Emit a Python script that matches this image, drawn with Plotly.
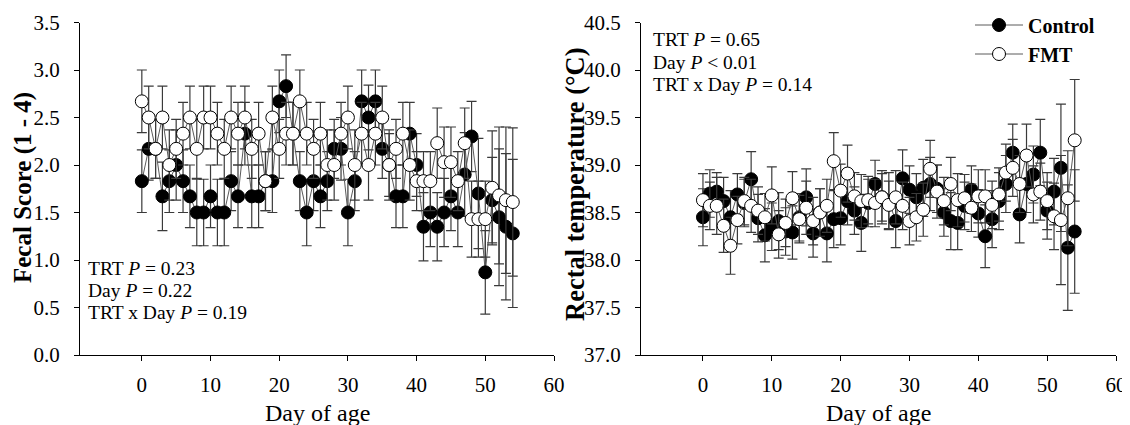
import plotly.graph_objects as go

days = list(range(55))

ctrl_fecal = [1.83, 2.17, 2.17, 1.67, 1.83, 2.00, 1.83, 1.67, 1.50, 1.50,
              1.67, 1.50, 1.50, 1.83, 1.67, 2.33, 1.67, 1.67, 1.83, 1.83,
              2.67, 2.83, 2.33, 1.83, 1.50, 1.83, 1.67, 1.83, 2.17, 2.17,
              1.50, 1.83, 2.67, 2.50, 2.67, 2.17, 2.00, 1.67, 1.67, 2.33,
              2.00, 1.35, 1.50, 1.35, 1.50, 1.67, 1.50, 1.90, 2.30, 1.70,
              0.87, 1.63, 1.45, 1.35, 1.28]
ctrl_fecal_se = [0.33, 0.33, 0.31, 0.36, 0.33, 0.37, 0.33, 0.33, 0.35, 0.35,
                 0.33, 0.35, 0.35, 0.31, 0.33, 0.33, 0.33, 0.33, 0.31, 0.33,
                 0.33, 0.33, 0.33, 0.31, 0.35, 0.31, 0.33, 0.31, 0.31, 0.33,
                 0.35, 0.31, 0.33, 0.34, 0.33, 0.31, 0.33, 0.33, 0.33, 0.33,
                 0.33, 0.36, 0.36, 0.36, 0.36, 0.36, 0.36, 0.44, 0.37, 0.58,
                 0.44, 0.45, 0.72, 0.77, 0.78]

fmt_fecal = [2.67, 2.50, 2.17, 2.50, 2.00, 2.17, 2.33, 2.50, 2.17, 2.50,
             2.50, 2.33, 2.17, 2.50, 2.33, 2.50, 2.17, 2.33, 1.83, 2.50,
             2.17, 2.33, 2.33, 2.67, 2.33, 2.17, 2.33, 2.00, 2.00, 2.33,
             2.50, 2.00, 2.33, 2.00, 2.33, 2.50, 2.00, 2.17, 2.33, 2.00,
             1.83, 1.83, 1.83, 2.23, 2.03, 2.03, 1.83, 2.23, 1.43, 1.43,
             1.43, 1.76, 1.68, 1.63, 1.61]
fmt_fecal_se = [0.33, 0.33, 0.31, 0.33, 0.37, 0.31, 0.33, 0.33, 0.31, 0.33,
                0.33, 0.33, 0.31, 0.33, 0.33, 0.33, 0.31, 0.33, 0.31, 0.33,
                0.31, 0.33, 0.33, 0.33, 0.33, 0.31, 0.33, 0.37, 0.37, 0.33,
                0.33, 0.37, 0.33, 0.37, 0.33, 0.33, 0.37, 0.31, 0.33, 0.37,
                0.31, 0.31, 0.31, 0.37, 0.37, 0.37, 0.31, 0.37, 0.40, 0.40,
                0.40, 0.60, 0.72, 0.77, 0.78]

ctrl_temp = [38.45, 38.70, 38.72, 38.62, 38.45, 38.69, 38.60, 38.85, 38.44, 38.26,
             38.35, 38.41, 38.30, 38.29, 38.45, 38.66, 38.28, 38.50, 38.28, 38.43,
             38.44, 38.62, 38.52, 38.39, 38.60, 38.80, 38.66, 38.62, 38.41, 38.86,
             38.74, 38.66, 38.76, 38.80, 38.75, 38.50, 38.41, 38.39, 38.57, 38.74,
             38.49, 38.25, 38.43, 38.62, 38.80, 39.13, 38.48, 38.80, 38.90, 39.13,
             38.52, 38.72, 38.97, 38.13, 38.30]
ctrl_temp_se = [0.30, 0.25, 0.20, 0.25, 0.28, 0.22, 0.25, 0.29, 0.25, 0.28,
                0.25, 0.30, 0.25, 0.28, 0.25, 0.30, 0.25, 0.25, 0.30, 0.30,
                0.28, 0.25, 0.25, 0.30, 0.25, 0.25, 0.25, 0.30, 0.28, 0.30,
                0.25, 0.25, 0.30, 0.28, 0.25, 0.25, 0.30, 0.28, 0.25, 0.25,
                0.25, 0.33, 0.30, 0.30, 0.30, 0.30, 0.30, 0.30, 0.30, 0.35,
                0.30, 0.35, 0.67, 0.66, 0.65]

fmt_temp = [38.63, 38.57, 38.57, 38.36, 38.15, 38.42, 38.62, 38.57, 38.52, 38.45,
            38.68, 38.27, 38.39, 38.65, 38.43, 38.55, 38.41, 38.50, 38.57, 39.04,
            38.73, 38.91, 38.67, 38.62, 38.63, 38.60, 38.66, 38.58, 38.66, 38.57,
            38.41, 38.45, 38.53, 38.96, 38.72, 38.62, 38.80, 38.63, 38.65, 38.55,
            38.67, 38.67, 38.58, 38.69, 38.92, 38.97, 38.80, 39.10, 38.69, 38.72,
            38.62, 38.46, 38.42, 38.65, 39.26]
fmt_temp_se = [0.28, 0.25, 0.30, 0.28, 0.30, 0.25, 0.25, 0.28, 0.25, 0.25,
               0.30, 0.25, 0.25, 0.28, 0.25, 0.28, 0.25, 0.25, 0.28, 0.30,
               0.28, 0.30, 0.25, 0.28, 0.25, 0.25, 0.28, 0.25, 0.28, 0.25,
               0.25, 0.25, 0.28, 0.30, 0.28, 0.25, 0.28, 0.28, 0.25, 0.25,
               0.28, 0.28, 0.25, 0.28, 0.30, 0.30, 0.30, 0.33, 0.30, 0.30,
               0.30, 0.35, 0.68, 0.50, 0.64]

x_ticks = [0, 10, 20, 30, 40, 50, 60]
left_stats = ["TRT <i>P</i> = 0.23", "Day <i>P</i> = 0.22", "TRT x Day <i>P</i> = 0.19"]
right_stats = ["TRT <i>P</i> = 0.65", "Day <i>P</i> &lt; 0.01", "TRT x Day <i>P</i> = 0.14"]

FONT = "Liberation Serif, Times New Roman, serif"
# the page body has an 8px margin, so the figure is sized to fill the rest of the window
OFF = 8
W, H = 1130 - OFF, 425 - OFF
LINE_C = "#5a5a5a"
ERR_C = "#3a3a3a"


def fx(v):
    return (v - OFF) / W


def fy(v):
    return 1 - (v - OFF) / H


fig = go.Figure()


def add_series(x, y, se, name, filled, xa, ya, show):
    fig.add_trace(go.Scatter(
        x=x, y=y, mode="lines+markers", name=name,
        xaxis=xa, yaxis=ya, showlegend=show, legendgroup=name,
        line=dict(color=LINE_C, width=1),
        marker=dict(symbol="circle", size=13,
                    color="black" if filled else "white",
                    line=dict(color="black", width=1)),
        error_y=dict(type="data", array=se, visible=True,
                     color=ERR_C, thickness=1.2, width=5),
    ))


add_series(days, ctrl_fecal, ctrl_fecal_se, "Control", True, "x", "y", False)
add_series(days, fmt_fecal, fmt_fecal_se, "FMT", False, "x", "y", False)
add_series(days, ctrl_temp, ctrl_temp_se, "Control", True, "x2", "y2", True)
add_series(days, fmt_temp, fmt_temp_se, "FMT", False, "x2", "y2", True)

ydom = [fy(355), fy(22.5)]
axis_common = dict(showline=True, linecolor="black", linewidth=1, ticks="outside",
                   ticklen=5, tickcolor="black", tickwidth=1, showgrid=False,
                   zeroline=False, automargin=False,
                   tickfont=dict(family=FONT, size=21, color="black"))

fig.update_layout(
    width=W, height=H, paper_bgcolor="white", plot_bgcolor="white",
    margin=dict(l=0, r=0, t=0, b=0, autoexpand=False),
    font=dict(family=FONT, color="black"),
    xaxis=dict(domain=[fx(80), fx(554)], range=[-9, 60], tickvals=x_ticks,
               anchor="y", ticklabelstandoff=6, **axis_common),
    yaxis=dict(domain=ydom, range=[0, 3.5], dtick=0.5, tick0=0, tickformat=".1f",
               anchor="x", ticklabelstandoff=10, **axis_common),
    xaxis2=dict(domain=[fx(641), fx(1116)], range=[-9, 60], tickvals=x_ticks,
                anchor="y2", ticklabelstandoff=6, **axis_common),
    yaxis2=dict(domain=ydom, range=[37, 40.5], dtick=0.5, tick0=37, tickformat=".1f",
                anchor="x2", ticklabelstandoff=10, **axis_common),
    legend=dict(x=fx(970), y=fy(5.5), xanchor="left", yanchor="top",
                bgcolor="rgba(0,0,0,0)", borderwidth=0, itemwidth=48,
                tracegroupgap=0,
                font=dict(family=FONT, size=20, color="black", weight="bold")),
    showlegend=True,
)

ann = []
ann.append(dict(text="<b>Fecal Score (1 - 4)</b>", x=fx(23), y=fy(188), xref="paper", yref="paper",
                textangle=-90, showarrow=False, xanchor="center", yanchor="middle",
                font=dict(family=FONT, size=25, color="black")))
ann.append(dict(text="<b>Rectal temperature (°C)</b>", x=fx(575), y=fy(184), xref="paper", yref="paper",
                textangle=-90, showarrow=False, xanchor="center", yanchor="middle",
                font=dict(family=FONT, size=26.5, color="black")))
for cx in [317, 878.5]:
    ann.append(dict(text="Day of age", x=fx(cx), y=fy(413), xref="paper", yref="paper",
                    showarrow=False, xanchor="center", yanchor="middle",
                    font=dict(family=FONT, size=24, color="black")))
for i, t in enumerate(left_stats):
    ann.append(dict(text=t, x=fx(86), y=fy(268 + 22 * i), xref="paper", yref="paper",
                    showarrow=False, xanchor="left", yanchor="middle",
                    font=dict(family=FONT, size=19.5, color="black")))
for i, t in enumerate(right_stats):
    ann.append(dict(text=t, x=fx(651), y=fy(40 + 22.5 * i), xref="paper", yref="paper",
                    showarrow=False, xanchor="left", yanchor="middle",
                    font=dict(family=FONT, size=19.5, color="black")))
fig.update_layout(annotations=ann)

fig.write_html("out.html")
